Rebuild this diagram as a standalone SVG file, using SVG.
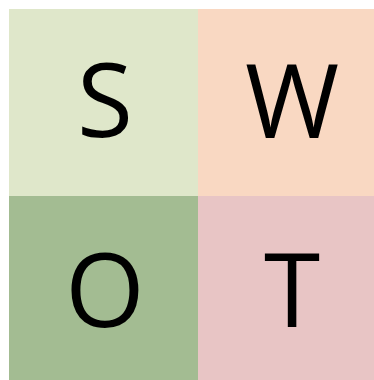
<svg xmlns="http://www.w3.org/2000/svg" width="374" height="380" viewBox="0 0 374 380">
<style>
.l{font-family:"Open Sans","Liberation Sans",sans-serif;font-size:102px;fill:#000;text-anchor:middle}
</style>
<rect width="374" height="380" fill="#fff"/>
<g id="S"><rect x="9" y="9" width="189" height="187" fill="#DFE7CA"/><text class="l" x="105" y="137">S</text></g>
<g id="W"><rect x="198" y="9" width="176" height="187" fill="#F9D8C2"/><text class="l" x="292" y="138">W</text></g>
<g id="O"><rect x="9" y="196" width="189" height="184" fill="#A3BC92"/><text class="l" x="105" y="327">O</text></g>
<g id="T"><rect x="198" y="196" width="176" height="184" fill="#E8C5C5"/><text class="l" x="292" y="327">T</text></g>
<g id="connectors"/>
</svg>
